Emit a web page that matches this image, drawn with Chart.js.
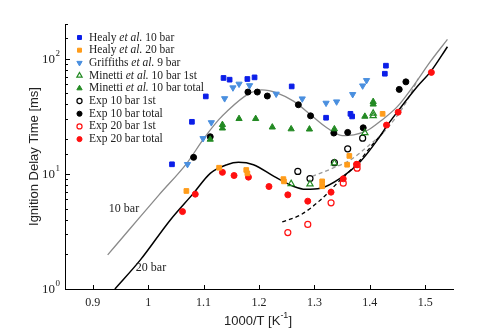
<!DOCTYPE html>
<html>
<head>
<meta charset="utf-8">
<script src="https://cdn.jsdelivr.net/npm/chart.js@4"></script>
<style>
  body { margin: 0; background: #fff; }
  #wrap { width: 500px; height: 328px; }
</style>
</head>
<body>
<div id="wrap"><canvas id="idtChart"></canvas></div>
<script>
// measured ignition delay times, x = 1000/T [1/K], y = tau [ms]
const healy10X = [1.043, 1.079, 1.104, 1.136, 1.147, 1.179, 1.192, 1.259, 1.321, 1.365, 1.368, 1.427, 1.429];
const healy10Y = [12.1, 28.3, 47.0, 68, 65.7, 66.6, 68.8, 57.4, 30.7, 33.2, 31.5, 74, 86.9];

const healy20X = [1.069, 1.128, 1.177, 1.179, 1.244, 1.245, 1.314, 1.314, 1.359, 1.363, 1.423];
const healy20Y = [7.1, 11.3, 10.8, 10.1, 9.0, 8.6, 8.6, 7.8, 12.0, 14.3, 33.2];

const griffithsX = [1.071, 1.099, 1.114, 1.138, 1.153, 1.164, 1.183, 1.231, 1.278, 1.321, 1.340, 1.369, 1.387, 1.394];
const griffithsY = [12.1, 20.3, 27.9, 45.1, 56, 60.3, 58.5, 49.4, 44.9, 41.2, 42.3, 49, 58.2, 64.8];

const minetti1stX = [1.258, 1.292, 1.336, 1.391, 1.406, 1.406];
const minetti1stY = [8.2, 8.15, 12.4, 22.7, 31.9, 33.5];

const minettiTotX = [1.112, 1.134, 1.134, 1.164, 1.194, 1.224, 1.258, 1.291, 1.336, 1.391, 1.406, 1.406];
const minettiTotY = [19.9, 26.7, 24.9, 30.1, 30.1, 25.4, 24.5, 24.4, 24.5, 31.5, 42.3, 40.2];

const exp10FirstX = [1.270, 1.292, 1.336, 1.360, 1.387];
const exp10FirstY = [10.5, 9.1, 12.5, 16.5, 20.4];

const exp10TotX = [1.082, 1.112, 1.180, 1.197, 1.215, 1.271, 1.293, 1.335, 1.360, 1.388, 1.453, 1.465];
const exp10TotY = [13.9, 21, 51.3, 51.3, 47.4, 39.8, 31.9, 22.6, 22.9, 25.1, 54.1, 62.9];

const exp20FirstX = [1.252, 1.288, 1.330, 1.352, 1.377, 1.377];
const exp20FirstY = [3.09, 3.64, 5.6, 8.3, 11.2, 12.0];

const exp20TotX = [1.062, 1.085, 1.134, 1.155, 1.181, 1.218, 1.252, 1.288, 1.330, 1.352, 1.376, 1.430, 1.451, 1.511];
const exp20TotY = [4.70, 6.66, 10.3, 9.67, 9.36, 7.76, 6.57, 5.79, 6.93, 9.05, 12.1, 26.5, 34.3, 76];

// model curves
const model10X = [0.927, 0.968, 1.020, 1.070, 1.100, 1.127, 1.142, 1.179, 1.205, 1.233, 1.263, 1.293, 1.323, 1.350, 1.371, 1.396, 1.420, 1.450, 1.480, 1.510, 1.540];
const model10Y = [1.98, 3.37, 6.6, 12.4, 20.1, 29.4, 34.8, 48.7, 53.5, 50.3, 42.6, 32.6, 25, 21.5, 21.8, 23.9, 28.9, 38.5, 59.3, 95.5, 147];

const model20X = [0.940, 0.986, 1.040, 1.082, 1.112, 1.142, 1.163, 1.190, 1.227, 1.263, 1.284, 1.311, 1.347, 1.383, 1.414, 1.432, 1.450, 1.486, 1.510, 1.540];
const model20Y = [1.0, 1.79, 3.98, 6.8, 10.1, 12, 12.6, 12, 9.5, 7.76, 7.33, 7.5, 9.2, 12.8, 19.8, 26.6, 34.7, 57.5, 77.5, 127];

const model10FirstX = [1.296, 1.335, 1.365, 1.396, 1.420, 1.444, 1.468, 1.487];
const model10FirstY = [9.5, 11.3, 13.2, 17.3, 21.8, 29.5, 44, 67];

const model20FirstX = [1.242, 1.275, 1.311, 1.347, 1.378, 1.402, 1.425];
const model20FirstY = [3.83, 4.4, 5.94, 8.87, 12.4, 17.3, 23.2];

const xTicks = [0.9, 1.0, 1.1, 1.2, 1.3, 1.4, 1.5];

const zip = (xs, ys) => xs.map((v, i) => ({ x: v, y: ys[i] }));

const BLUE = '#0b1ee8', ORANGE = '#ff9c1a', LBLUE = '#4a8fdf', GREEN = '#238a23', RED = '#ff1010';

function pts(label, xs, ys, color, style, open, radius, rotation) {
  return {
    label, data: zip(xs, ys), showLine: false, order: 1,
    pointStyle: style, pointRadius: radius, pointHoverRadius: radius,
    pointRotation: rotation || 0,
    pointBackgroundColor: open ? 'rgba(255,255,255,0)' : color,
    pointBorderColor: color, pointBorderWidth: open ? 1.2 : 1,
    inLegend: true
  };
}

function curve(xs, ys, color, width, dash) {
  return {
    label: '', data: zip(xs, ys), showLine: true, order: 2,
    borderColor: color, borderWidth: width, borderDash: dash || [],
    pointRadius: 0, pointHoverRadius: 0, fill: false,
    cubicInterpolationMode: 'monotone'
  };
}

const datasets = [
  pts('Healy et al. 10 bar', healy10X, healy10Y, BLUE, 'rect', false, 3.3),
  pts('Healy et al. 20 bar', healy20X, healy20Y, ORANGE, 'rect', false, 3.3),
  pts('Griffiths et al. 9 bar', griffithsX, griffithsY, LBLUE, 'triangle', false, 3.6, 180),
  pts('Minetti et al. 10 bar 1st', minetti1stX, minetti1stY, GREEN, 'triangle', true, 3.6),
  pts('Minetti et al. 10 bar total', minettiTotX, minettiTotY, GREEN, 'triangle', false, 3.6),
  pts('Exp 10 bar 1st', exp10FirstX, exp10FirstY, '#000', 'circle', true, 3),
  pts('Exp 10 bar total', exp10TotX, exp10TotY, '#000', 'circle', false, 3),
  pts('Exp 20 bar 1st', exp20FirstX, exp20FirstY, RED, 'circle', true, 3),
  pts('Exp 20 bar total', exp20TotX, exp20TotY, RED, 'circle', false, 3),
  curve(model10X, model10Y, '#8a8a8a', 1.3),
  curve(model20X, model20Y, '#000', 1.5),
  curve(model10FirstX, model10FirstY, '#999', 1.3, [4, 3]),
  curve(model20FirstX, model20FirstY, '#000', 1.3, [4, 3])
];

const SERIF = '"Liberation Serif", "DejaVu Serif", serif';
const SANS = '"Liberation Sans", Arial, sans-serif';

// axis decorations, curve labels and the legend (mixed italic text)
const decor = {
  id: 'decor',
  afterDraw(chart) {
    const { ctx, chartArea: a, scales: { x, y } } = chart;
    ctx.save();
    ctx.strokeStyle = '#000';
    ctx.lineWidth = 1;
    ctx.beginPath();
    x.ticks.forEach(t => {
      const px = Math.round(x.getPixelForValue(t.value)) + 0.5;
      ctx.moveTo(px, a.bottom);
      ctx.lineTo(px, a.bottom - 4);
    });
    y.ticks.forEach(t => {
      const lg = Math.log10(t.value);
      const major = Math.abs(lg - Math.round(lg)) < 1e-9;
      const py = Math.round(y.getPixelForValue(t.value)) + 0.5;
      ctx.moveTo(a.left, py);
      ctx.lineTo(a.left + (major ? 5 : 3), py);
    });
    ctx.stroke();

    // y tick labels 10^n
    ctx.fillStyle = '#222';
    y.ticks.forEach(t => {
      const lg = Math.log10(t.value);
      if (Math.abs(lg - Math.round(lg)) > 1e-9) return;
      const py = y.getPixelForValue(t.value);
      ctx.font = '13px ' + SERIF;
      ctx.textAlign = 'right';
      ctx.textBaseline = 'middle';
      ctx.fillText('10', 55, py + 1);
      ctx.font = '9px ' + SERIF;
      ctx.textAlign = 'left';
      ctx.fillText(String(Math.round(lg)), 55.5, py - 5);
    });

    // axis titles
    ctx.font = '13px ' + SANS;
    ctx.textBaseline = 'middle';
    ctx.textAlign = 'center';
    ctx.save();
    ctx.translate(34, (a.top + a.bottom) / 2);
    ctx.rotate(-Math.PI / 2);
    ctx.fillText('Ignition Delay Time [ms]', 0, 0);
    ctx.restore();

    const main = '1000/T [K', sup = '-1', tail = ']';
    ctx.font = '13px ' + SANS;
    const w1 = ctx.measureText(main).width, w3 = ctx.measureText(tail).width;
    ctx.font = '9px ' + SANS;
    const w2 = ctx.measureText(sup).width;
    const tx = 258 - (w1 + w2 + w3) / 2;
    const ty = 321;
    ctx.textAlign = 'left';
    ctx.font = '13px ' + SANS;
    ctx.fillText(main, tx, ty);
    ctx.font = '9px ' + SANS;
    ctx.fillText(sup, tx + w1, ty - 5);
    ctx.font = '13px ' + SANS;
    ctx.fillText(tail, tx + w1 + w2, ty);

    // curve labels
    ctx.font = '12px ' + SERIF;
    ctx.textAlign = 'center';
    ctx.fillText('10 bar', 124, 209);
    ctx.fillText('20 bar', 151, 268);

    // legend
    const rowH = 12.7;
    let ly = 37.5;
    chart.data.datasets.forEach(ds => {
      if (!ds.inLegend) return;
      ctx.fillStyle = ds.pointBackgroundColor;
      ctx.strokeStyle = ds.pointBorderColor;
      ctx.lineWidth = ds.pointBorderWidth;
      Chart.helpers.drawPoint(ctx, {
        pointStyle: ds.pointStyle,
        radius: ds.pointRadius * 0.85,
        rotation: ds.pointRotation,
        borderWidth: ds.pointBorderWidth
      }, 79.5, ly);

      ctx.fillStyle = '#222';
      ctx.textAlign = 'left';
      ctx.textBaseline = 'middle';
      const parts = ds.label.split('et al.');
      let lx = 89;
      const fs = '11.5px ';
      ctx.font = fs + SERIF;
      ctx.fillText(parts[0], lx, ly);
      lx += ctx.measureText(parts[0]).width;
      if (parts.length > 1) {
        ctx.font = 'italic ' + fs + SERIF;
        ctx.fillText('et al.', lx, ly);
        lx += ctx.measureText('et al.').width;
        ctx.font = fs + SERIF;
        ctx.fillText(parts[1], lx, ly);
      }
      ly += rowH;
    });
    ctx.restore();
  }
};

new Chart(document.getElementById('idtChart'), {
  type: 'scatter',
  data: { datasets },
  options: {
    responsive: true,
    maintainAspectRatio: false,
    devicePixelRatio: 1,
    animation: false,
    layout: { padding: { top: 24, right: 47, left: 0, bottom: 0 } },
    plugins: { legend: { display: false }, tooltip: { enabled: false } },
    scales: {
      x: {
        type: 'linear', min: 0.85, max: 1.55,
        grid: { display: false, drawTicks: false },
        border: { display: true, color: '#000', width: 1 },
        afterBuildTicks: s => { s.ticks = xTicks.map(v => ({ value: v })); },
        ticks: {
          padding: 7, color: '#222',
          font: { family: SERIF, size: 12 },
          callback: v => String(Math.round(v * 10) / 10)
        },
        afterFit: s => { s.height = 39; }
      },
      y: {
        type: 'logarithmic', min: 1, max: 200,
        grid: { display: false, drawTicks: false },
        border: { display: true, color: '#000', width: 1 },
        ticks: { display: false },
        afterFit: s => { s.width = 65; }
      }
    }
  },
  plugins: [decor]
});
</script>
</body>
</html>
